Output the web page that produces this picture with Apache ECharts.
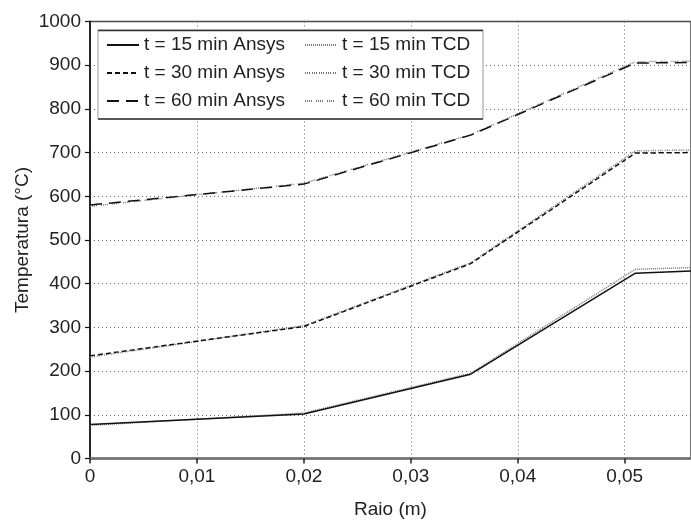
<!DOCTYPE html>
<html>
<head>
<meta charset="utf-8">
<script src="https://cdn.jsdelivr.net/npm/echarts@6/dist/echarts.min.js"></script>
<style>html,body{margin:0;padding:0;background:#fff}#c{width:691px;height:525px}</style>
</head>
<body>
<div id="c"></div>
<script>
// Data
var raio = [0, 0.02, 0.0356, 0.051, 0.0562];
var ansys15 = [78, 102, 193, 424, 429];
var tcd15   = [76, 104, 195, 433, 437];
var ansys30 = [235, 302, 446, 699, 700];
var tcd30   = [232, 304, 448, 704, 706];
var ansys60 = [580, 628, 740, 905, 906];
var tcd60   = [577, 630, 741, 908, 909];
var names = ['t = 15 min Ansys','t = 15 min TCD','t = 30 min Ansys','t = 30 min TCD','t = 60 min Ansys','t = 60 min TCD'];
var yTicks = [0, 1000, 100];
var xTicks = [0, 0.0562, 0.01];

function pairs(ys){ return raio.map(function(x,i){ return [x, ys[i]]; }); }

var FONT = 'Liberation Sans, Arial, sans-serif';
var chart = echarts.init(document.getElementById('c'), null, {renderer:'canvas'});

function ser(name, ys, color, width, type, z){
  return {name:name, type:'line', data:pairs(ys), symbol:'none', z:z,
    lineStyle:{color:color, width:width, type:type}, itemStyle:{color:color}};
}

var legendBase = {orient:'vertical', top:35, itemWidth:32, itemHeight:12, itemGap:8, padding:0, z:10,
  itemStyle:{opacity:0},
  textStyle:{fontFamily:FONT, fontSize:19, color:'#222', lineHeight:20}};

var option = {
  animation:false,
  grid:{left:90, right:0, top:21.5, bottom:66.5, show:true, borderColor:'#444', borderWidth:1.5},
  xAxis:{type:'value', min:xTicks[0], max:xTicks[1], interval:xTicks[2],
    name:'Raio (m)', nameLocation:'middle', nameGap:42, nameMoveOverlap:false,
    nameTextStyle:{fontFamily:FONT, fontSize:19, color:'#222'},
    axisLine:{lineStyle:{color:'#6e6e6e', width:2.5}},
    axisTick:{show:true, length:5, lineStyle:{color:'#222', width:1.5}},
    axisLabel:{fontFamily:FONT, fontSize:19, color:'#222', margin:9, showMaxLabel:false,
      formatter:function(v){ return String(+v.toFixed(2)).replace('.', ','); }},
    splitLine:{show:true, lineStyle:{color:'#666', width:1, type:[1,3]}}
  },
  yAxis:{type:'value', min:yTicks[0], max:yTicks[1], interval:yTicks[2],
    name:'Temperatura (°C)', nameLocation:'middle', nameGap:58, nameMoveOverlap:false,
    nameTextStyle:{fontFamily:FONT, fontSize:19, color:'#222'},
    axisLine:{show:true, lineStyle:{color:'#111', width:1.5}},
    axisTick:{show:true, length:5, lineStyle:{color:'#111', width:1.2}},
    axisLabel:{fontFamily:FONT, fontSize:19, color:'#222', margin:9,
      formatter:function(v){ return String(v); }},
    splitLine:{show:true, lineStyle:{color:'#666', width:1, type:[1,3]}}
  },
  legend:[
    Object.assign({data:[names[0],names[2],names[4]], left:106}, legendBase),
    Object.assign({data:[names[1],names[3],names[5]], left:304}, legendBase)
  ],
  graphic:[
    {type:'rect', shape:{x:98, y:30, width:385, height:89}, z:5,
     style:{fill:'#fff', stroke:'#999', lineWidth:1}},
    {type:'line', shape:{x1:98, y1:30.5, x2:483, y2:30.5}, z:6, style:{stroke:'#333', lineWidth:1.5}},
    {type:'line', shape:{x1:98, y1:119, x2:483, y2:119}, z:6, style:{stroke:'#333', lineWidth:1.5}}
  ],
  series:[
    ser(names[0], ansys15, '#111', 1.5, 'solid', 3),
    ser(names[1], tcd15, '#777', 1.5, [1,1], 2),
    ser(names[2], ansys30, '#111', 1.5, [5,3], 3),
    ser(names[3], tcd30, '#777', 1.5, [1,1,1,1,1,2], 2),
    ser(names[4], ansys60, '#111', 1.5, [12,7], 3),
    ser(names[5], tcd60, '#777', 1.5, [1,1,1,1,1,1,1,4], 2)
  ]
};
chart.setOption(option);
</script>
</body>
</html>
